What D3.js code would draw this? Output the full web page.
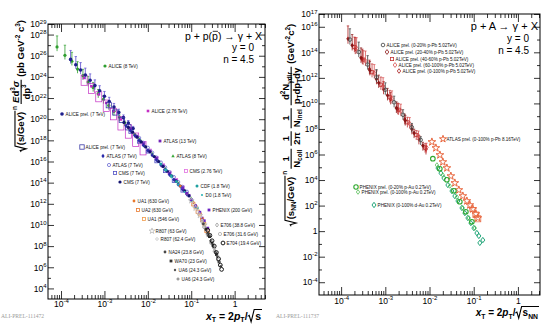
<!DOCTYPE html>
<html><head><meta charset="utf-8">
<script src="https://cdn.jsdelivr.net/npm/d3@7"></script>
<style>
body{margin:0;background:#fff}
svg{display:block;font-family:"Liberation Sans",Arial,Helvetica,sans-serif}
</style></head>
<body><svg id="c" width="550" height="327"></svg>
<script>
// ---------------- LEFT PANEL DATA (p+p) ----------------
const alice8_x = [8.1e-5,1.23e-4,1.78e-4,2.4e-4,3.2e-4,4.2e-4,5.5e-4,7.2e-4,9.5e-4,1.26e-3,1.66e-3,2.2e-3,2.9e-3,3.8e-3,5.0e-3,6.6e-3];
const alice8_y = [6.8e26,1.1e26,3.0e25,5.5e24,1.3e24,3.2e23,1.0e23,2.6e22,7.5e21,2.0e21,5.5e20,1.6e20,4.5e19,1.2e19,3.3e18,9.0e17];
const alice8_err = [10,8,6,4,3,2.5,2,1.5,1.2,1,0.8,0.6,0.5,0.4,0.35,0.3];
const alicePrel7_x = [1.66e-4,2.19e-4,2.82e-4,3.63e-4,4.68e-4,6.03e-4,7.76e-4,1.0e-3,1.29e-3,1.66e-3,2.14e-3,2.75e-3,3.55e-3,4.57e-3];
const alicePrel7_y = [4.5e25,1.4e25,4.5e24,1.5e24,4.8e23,1.5e23,4.9e22,1.5e22,4.7e21,1.4e21,4.4e20,1.4e20,4.4e19,1.3e19];
const alicePrel7_err = [6,5,4,3.5,3,2.5,2,1.8,1.5,1.2,1,0.8,0.7,0.6];
const alice276_x = [3.4e-4,5.0e-4,7.4e-4,1.1e-3,1.62e-3,2.4e-3,3.55e-3,5.25e-3,7.76e-3];
const alice276_y = [8e23,1.3e23,2.2e22,3.5e21,5.8e20,9.5e19,1.6e19,2.6e18,4.2e17];
const alice276_sys = [0.8,0.8,0.8,0.85,0.85,0.9,0.9,0.9,0.9];
const alicePrel7open_x = [1.26e-3,1.78e-3,2.51e-3,3.55e-3];
const alicePrel7open_y = [2.1e21,4.3e20,8.5e19,1.7e19];
const atlas13_x = [3.98e-3,5.62e-3,7.94e-3,1.12e-2,1.58e-2,2.24e-2,3.16e-2,4.47e-2,6.31e-2,8.91e-2,0.126,0.178,0.224];
const atlas13_y = [1.26e19,2.5e18,5.0e17,1.0e17,2.0e16,4.0e15,7.9e14,1.6e14,3.2e13,6.3e12,6.3e11,4.5e10,4.0e9];
const atlas7a_x = [3.16e-3,3.98e-3,5.01e-3,6.31e-3,7.94e-3,1.0e-2,1.26e-2,1.58e-2,2.0e-2,2.51e-2,3.16e-2,3.98e-2,5.01e-2,6.31e-2,7.94e-2,1.0e-1];
const atlas7a_y = [2.3e19,8.1e18,2.8e18,9.5e17,3.3e17,1.1e17,3.9e16,1.35e16,4.6e15,1.6e15,5.5e14,1.9e14,6.5e13,2.2e13,7.8e12,2.2e12];
const atlas7b_x = [6.31e-3,7.94e-3,1.0e-2,1.26e-2,1.58e-2,2.0e-2,2.51e-2,3.16e-2,3.98e-2,5.01e-2,6.31e-2,7.94e-2];
const atlas7b_y = [1.7e18,5.9e17,2.0e17,6.9e16,2.4e16,8.1e15,2.8e15,9.8e14,3.4e14,1.15e14,4.0e13,1.4e13];
const cms7open_x = [3.98e-3,6.31e-3,1.0e-2,1.58e-2,2.51e-2,3.98e-2,6.31e-2];
const cms7open_y = [6.5e18,7.6e17,8.9e16,1.07e16,1.26e15,1.5e14,1.8e13];
const cms7_x = [2.82e-3,3.55e-3,4.47e-3,5.62e-3,7.08e-3,8.91e-3,1.12e-2,1.41e-2,1.78e-2,2.24e-2,2.82e-2,3.55e-2,4.47e-2,5.62e-2,7.08e-2,8.91e-2];
const cms7_y = [5.0e19,1.7e19,5.9e18,2.0e18,7.1e17,2.4e17,8.3e16,2.9e16,1.0e16,3.4e15,1.2e15,4.1e14,1.4e14,4.8e13,1.7e13,5.6e12];
const atlas8_x = [6.31e-3,8.91e-3,1.26e-2,1.78e-2,2.51e-2,3.55e-2,5.01e-2,7.08e-2,1.0e-1,1.26e-1];
const atlas8_y = [1.35e18,2.7e17,5.5e16,1.1e16,2.2e15,4.6e14,9.2e13,1.9e13,3.2e12,6.3e11];
const cms276_x = [7.94e-3,1.12e-2,1.58e-2,2.24e-2,3.16e-2,4.47e-2,6.31e-2];
const cms276_y = [5.2e17,1.05e17,2.1e16,4.3e15,8.7e14,1.74e14,3.5e13];
const cdf_x = [2.0e-2,2.63e-2,3.47e-2,4.57e-2,6.03e-2,7.94e-2,1.05e-1,1.38e-1];
const cdf_y = [5.8e15,1.6e15,4.5e14,1.26e14,3.5e13,9.8e12,2.0e12,4.0e11];
const d0_x = [2.51e-2,3.55e-2,5.01e-2,7.08e-2,1.0e-1,1.26e-1];
const d0_y = [1.6e15,3.2e14,6.5e13,1.3e13,2.2e12,4.5e11];
const ua1630_x = [5.62e-2,7.94e-2,0.112,0.158,0.2,0.251];
const ua1630_y = [4.8e13,9.8e12,1.26e12,1.26e11,1.6e10,2.0e9];
const ua2_x = [0.112,0.141,0.178,0.224];
const ua2_y = [8.9e11,1.8e11,3.2e10,2.8e9];
const ua1546_x = [0.126,0.158,0.2];
const ua1546_y = [5.0e11,1.0e11,1.26e10];
const phenix200_x = [6.3e-2,7.9e-2,0.1,0.126,0.158,0.2,0.24];
const phenix200_y = [3.2e13,1.0e13,2.5e12,6.3e11,1.6e11,2.5e10,5.0e9];
const r807a_x = [0.1,0.126,0.158,0.2,0.251];
const r807a_y = [2.0e12,4.0e11,7.9e10,1.0e10,1.26e9];
const r807b_x = [0.112,0.141,0.178,0.224];
const r807b_y = [1.0e12,1.6e11,2.5e10,3.2e9];
const e706a_x = [0.178,0.209,0.245,0.288,0.339,0.398];
const e706a_y = [2.0e10,5.0e9,1.26e9,2.5e8,6.3e7,1.26e7];
const e706b_x = [0.2,0.24,0.288,0.347,0.417];
const e706b_y = [6.3e9,1.26e9,2.0e8,3.2e7,5.0e6];
const e704_x = [0.24,0.269,0.302,0.339,0.38,0.427,0.468,0.501];
const e704_y = [3.2e9,1.0e9,3.2e8,1.0e8,2.5e7,6.3e6,1.6e6,6.3e5];
const na24_x = [0.191,0.24,0.302,0.38];
const na24_y = [1.26e10,1.6e9,2.0e8,2.0e7];
const wa70_x = [0.219,0.263,0.316,0.38,0.437];
const wa70_y = [4.0e9,7.9e8,1.26e8,1.6e7,3.2e6];
const ua6a_x = [0.251,0.316,0.398,0.479];
const ua6a_y = [1.0e9,1.0e8,1.0e7,1.26e6];
const ua6b_x = [0.282,0.355,0.447];
const ua6b_y = [3.2e8,3.2e7,3.2e6];

// ---------------- RIGHT PANEL DATA (p+A) ----------------
const aliceA_x = [1.58e-4,2.51e-4,3.98e-4,6.31e-4,1.0e-3,1.58e-3,2.51e-3,3.98e-3,6.31e-3];
const aliceA_y = [1.0e15,1.05e14,1.1e13,1.12e12,1.17e11,1.23e10,1.29e9,1.35e8,1.38e7];
const aliceA_err = [6,5,4,3,2.5,2,1.5,1,0.8];
const aliceB_x = [1.78e-4,2.82e-4,4.47e-4,7.08e-4,1.12e-3,1.78e-3,2.82e-3,4.47e-3,7.08e-3];
const aliceB_y = [3.5e14,3.7e13,3.9e12,4.1e11,4.3e10,4.4e9,4.6e8,4.8e7,5.0e6];
const aliceB_err = [6,5,4,3,2.5,2,1.5,1,0.8];
const aliceC_x = [2.0e-4,3.16e-4,5.01e-4,7.94e-4,1.26e-3,2.0e-3,3.16e-3,5.01e-3,7.94e-3];
const aliceC_y = [2.6e14,2.7e13,2.75e12,2.9e11,3.0e10,3.2e9,3.3e8,3.4e7,3.5e6];
const aliceC_err = [5,4,3.5,3,2.5,2,1.5,1.2,1];
const aliceD_x = [2.24e-4,3.55e-4,5.62e-4,8.91e-4,1.41e-3,2.24e-3,3.55e-3,5.62e-3,8.51e-3];
const aliceD_y = [2.0e14,2.1e13,2.2e12,2.3e11,2.4e10,2.5e9,2.6e8,2.75e7,3.5e6];
const aliceD_err = [6,5,4,3.5,3,2.5,2,1.5,1.2];
const aliceE_x = [1.43e-4,2.09e-4,3.02e-4,4.37e-4,6.31e-4,9.12e-4,1.32e-3,1.91e-3,2.75e-3,3.98e-3,5.75e-3,8.32e-3];
const aliceE_y = [1.17e15,1.8e14,2.95e13,4.9e12,7.9e11,1.3e11,2.1e10,3.5e9,5.8e8,9.5e7,1.55e7,2.5e6];
const aliceE_err = [9,7,5,4,3.5,3,2.5,2,1.5,1.2,1,0.8];
const atlasPA_x = [0.01132,0.01393,0.01718,0.02004,0.02472,0.03041,0.03741,0.04613,0.05675,0.06998,0.08166,0.0955,0.1117,0.1239];
const atlasPA_y = [9.55e6,3.24e6,9.12e5,2.57e5,8.71e4,2.04e4,5.89e3,1.66e3,562,229,110,53.7,21.9,10.7];
const atlasPA_sys = [0,0,0,0,0,0,0,0,0,0,0,0.35,0.45,0.5];
const phenixPAu20_x = [1.19e-2,1.71e-2,2.47e-2,3.56e-2,4.85e-2,6.64e-2,9.08e-2];
const phenixPAu20_y = [4.7e5,7.6e4,1.05e4,1.45e3,200,33,5.4];
const phenixPAu100_x = [1.47e-2,2.0e-2,2.88e-2,4.16e-2,5.68e-2,7.76e-2,0.106];
const phenixPAu100_y = [1.5e5,2.45e4,3.4e3,470,65,10.7,1.74];
const phenixDAu_x = [1.55e-2,1.81e-2,2.11e-2,2.6e-2,3.21e-2,3.74e-2,4.38e-2,5.4e-2,6.3e-2,7.36e-2,8.61e-2,0.1007,0.1178,0.1306,0.1374,0.1607];
const phenixDAu_y = [8.7e4,3.5e4,1.45e4,4.1e3,1.38e3,560,230,65,26,10.7,4.3,1.74,0.71,0.42,0.12,0.2];

// tick / label lists
const xMajorTicks = [1e-4,1e-3,1e-2,1e-1,1];
const yLeftMajor = [1e4,1e6,1e8,1e10,1e12,1e14,1e16,1e18,1e20,1e22,1e24,1e26,1e28,1e29];
const yLeftMinor = [1e5,1e7,1e9,1e11,1e13,1e15,1e17,1e19,1e21,1e23,1e25,1e27];
const yRightMajor = [1e-4,1e-2,1,1e2,1e4,1e6,1e8,1e10,1e12,1e14,1e16,1e17];
const yRightMinor = [1e-3,1e-1,10,1e3,1e5,1e7,1e9,1e11,1e13,1e15];

// ---------------- series styles ----------------
const leftSeries = [
  {label:"ALICE (8 TeV)", x:alice8_x, y:alice8_y, err:alice8_err, shape:"circle", color:"#2f9e2f", fill:true, r:1.6, lx:105, ly:66},
  {label:"ALICE (2.76 TeV)", x:alice276_x, y:alice276_y, sys:alice276_sys, shape:"square", color:"#c42ec4", fill:true, r:1.3, lx:148, ly:111},
  {label:"ALICE prel. (7 TeV)", x:alicePrel7_x, y:alicePrel7_y, err:alicePrel7_err, shape:"circle", color:"#1e1e8c", ecolor:"#5a4ad0", fill:true, r:1.8, lx:62, ly:114},
  {label:"ALICE prel. (7 TeV)", x:alicePrel7open_x, y:alicePrel7open_y, shape:"square", color:"#3a3aa6", fill:false, r:2.6, lx:82, ly:147},
  {label:"ATLAS (8 TeV)", x:atlas8_x, y:atlas8_y, shape:"triangle", color:"#3aa83a", fill:true, r:1.5, lx:173, ly:156},
  {label:"CMS (2.76 TeV)", x:cms276_x, y:cms276_y, shape:"square", color:"#e070e0", fill:false, r:1.6, lx:186, ly:171},
  {label:"ATLAS (7 TeV)", x:atlas7b_x, y:atlas7b_y, shape:"circle", color:"#6a6ad2", fill:false, r:1.6, lx:109, ly:165},
  {label:"CMS (7 TeV)", x:cms7open_x, y:cms7open_y, shape:"square", color:"#5050c4", fill:false, r:1.6, lx:115, ly:173},
  {label:"ATLAS (13 TeV)", x:atlas13_x, y:atlas13_y, shape:"square", color:"#7424b8", fill:true, r:1.4, lx:160, ly:141},
  {label:"ATLAS (7 TeV)", x:atlas7a_x, y:atlas7a_y, shape:"diamond", color:"#2a2aaa", fill:true, r:1.6, lx:103, ly:156},
  {label:"CMS (7 TeV)", x:cms7_x, y:cms7_y, shape:"circle", color:"#141470", fill:true, r:1.6, lx:120, ly:182},
  {label:"CDF (1.8 TeV)", x:cdf_x, y:cdf_y, shape:"circle", color:"#1fa0a0", fill:true, r:1.5, lx:197, ly:186},
  {label:"D0 (1.8 TeV)", x:d0_x, y:d0_y, shape:"circle", color:"#30b6b6", fill:true, r:1.1, lx:202, ly:195},
  {label:"UA1 (630 GeV)", x:ua1630_x, y:ua1630_y, shape:"circle", color:"#e8782c", fill:true, r:1.4, lx:134, ly:201},
  {label:"UA2 (630 GeV)", x:ua2_x, y:ua2_y, shape:"square", color:"#e8782c", fill:false, r:1.6, lx:138, ly:210},
  {label:"UA1 (546 GeV)", x:ua1546_x, y:ua1546_y, shape:"square", color:"#f09a48", fill:false, r:1.5, lx:144, ly:219},
  {label:"PHENIX (200 GeV)", x:phenix200_x, y:phenix200_y, shape:"square", color:"#6a22c4", fill:true, r:1.4, lx:209, ly:210},
  {label:"R807 (63 GeV)", x:r807a_x, y:r807a_y, shape:"star", color:"#bdbdbd", fill:false, r:1.8, lx:152, ly:231},
  {label:"R807 (62.4 GeV)", x:r807b_x, y:r807b_y, shape:"circle", color:"#c8c8c8", fill:false, r:1.3, lx:157, ly:239},
  {label:"E706 (38.8 GeV)", x:e706a_x, y:e706a_y, shape:"diamond", color:"#999999", fill:false, r:1.5, lx:217, ly:225},
  {label:"E706 (31.6 GeV)", x:e706b_x, y:e706b_y, shape:"circle", color:"#a8a8a8", fill:false, r:1.6, lx:220, ly:234},
  {label:"NA24 (23.8 GeV)", x:na24_x, y:na24_y, shape:"circle", color:"#484848", fill:true, r:1.4, lx:165, ly:252},
  {label:"WA70 (23 GeV)", x:wa70_x, y:wa70_y, shape:"square", color:"#333333", fill:true, r:1.4, lx:171, ly:261},
  {label:"UA6 (24.3 GeV)", x:ua6a_x, y:ua6a_y, shape:"circle", color:"#555555", fill:true, r:1.2, lx:175, ly:270},
  {label:"UA6 (24.3 GeV)", x:ua6b_x, y:ua6b_y, shape:"cross", color:"#666666", fill:false, r:1.6, lx:178, ly:279},
  {label:"E704 (19.4 GeV)", x:e704_x, y:e704_y, shape:"circle", color:"#1a1a1a", fill:false, r:1.9, sw:1, lx:223, ly:243}
];
const rightSeries = [
  {label:"ALICE prel. (0-100% p-Pb 5.02TeV)", x:aliceE_x, y:aliceE_y, err:aliceE_err, shape:"diamond", color:"#a81c1c", fill:true, r:1.7, lx:399, ly:71, lfill:false},
  {label:"ALICE prel. (60-100% p-Pb 5.02TeV)", x:aliceD_x, y:aliceD_y, err:aliceD_err, shape:"diamond", color:"#d85050", fill:false, r:1.8, lx:395, ly:65},
  {label:"ALICE prel. (40-60% p-Pb 5.02TeV)", x:aliceC_x, y:aliceC_y, err:aliceC_err, shape:"square", color:"#c43434", fill:false, r:1.6, lx:392, ly:59},
  {label:"ALICE prel. (20-40% p-Pb 5.02TeV)", x:aliceB_x, y:aliceB_y, err:aliceB_err, shape:"diamond", color:"#8a1616", fill:true, r:1.8, lx:387, ly:52, lfill:false},
  {label:"ALICE prel. (0-20% p-Pb 5.02TeV)", x:aliceA_x, y:aliceA_y, err:aliceA_err, shape:"circle", color:"#404040", fill:false, r:1.8, lx:383, ly:45},
  {label:"ATLAS prel. (0-100% p-Pb 8.16TeV)", x:atlasPA_x, y:atlasPA_y, sys:atlasPA_sys, shape:"star", color:"#e8663e", fill:false, r:2.4, sw:1, lx:443, ly:139},
  {label:"PHENIX (0-100% d-Au 0.2TeV)", x:phenixDAu_x, y:phenixDAu_y, shape:"diamond", color:"#22a67a", fill:false, r:2.0, sw:1, lx:374, ly:205},
  {label:"PHENIX prel. (0-100% p-Au 0.2TeV)", x:phenixPAu100_x, y:phenixPAu100_y, shape:"diamond", color:"#58be58", fill:false, r:1.7, lx:358, ly:192},
  {label:"PHENIX prel. (0-20% p-Au 0.2TeV)", x:phenixPAu20_x, y:phenixPAu20_y, shape:"circle", color:"#2ea82e", fill:false, r:2.3, sw:1.1, lx:356, ly:187}
];

const svg = d3.select("#c");

// ---------- helpers ----------
function marker(g, shape, cx, cy, r, color, fill, sw) {
  let s;
  if (shape === "circle") s = g.append("circle").attr("cx", cx).attr("cy", cy).attr("r", r);
  else if (shape === "square") s = g.append("rect").attr("x", cx - r).attr("y", cy - r).attr("width", 2 * r).attr("height", 2 * r);
  else if (shape === "diamond") s = g.append("path").attr("d", `M${cx},${cy - r * 1.35}L${cx + r},${cy}L${cx},${cy + r * 1.35}L${cx - r},${cy}Z`);
  else if (shape === "triangle") s = g.append("path").attr("d", `M${cx},${cy - r * 1.25}L${cx + r * 1.15},${cy + r * 0.8}L${cx - r * 1.15},${cy + r * 0.8}Z`);
  else if (shape === "star") s = g.append("path").attr("transform", `translate(${cx},${cy})`).attr("d", d3.symbol(d3.symbolStar, r * r * 3.2)());
  else if (shape === "cross") {
    s = g.append("path").attr("d", `M${cx - r},${cy}H${cx + r}M${cx},${cy - r}V${cy + r}`);
    fill = false;
  }
  if (fill) s.attr("fill", color).attr("stroke", "none");
  else s.attr("fill", "none").attr("stroke", color).attr("stroke-width", sw || 0.8);
}

function drawSeries(g, xs, ys, s) {
  const lo = ys.domain()[0];
  s.x.forEach((xv, i) => {
    const yv = s.y[i], px = xs(xv);
    if (s.sys && s.sys[i]) {
      const t = ys(yv * (1 + s.sys[i])), b = ys(Math.max(yv * (1 - s.sys[i]), lo));
      g.append("rect").attr("x", px - 3).attr("width", 6).attr("y", t).attr("height", b - t)
        .attr("fill", "none").attr("stroke", s.color).attr("stroke-width", 0.7);
    }
    if (s.err) {
      const e = s.err[i];
      g.append("line").attr("x1", px).attr("x2", px)
        .attr("y1", ys(yv * (1 + e))).attr("y2", ys(yv * (1 - Math.min(e, 0.6))))
        .attr("stroke", s.ecolor || s.color).attr("stroke-width", 0.8);
      g.append("line").attr("x1", px - 1.2).attr("x2", px + 1.2)
        .attr("y1", ys(yv * (1 + e))).attr("y2", ys(yv * (1 + e)))
        .attr("stroke", s.ecolor || s.color).attr("stroke-width", 0.7);
    }
  });
  s.x.forEach((xv, i) => marker(g, s.shape, xs(xv), ys(s.y[i]), s.r, s.color, s.fill, s.sw));
}

function drawLegend(g, list, fs) {
  list.forEach(s => {
    marker(g, s.shape, s.lx, s.ly, Math.min(s.r, 2.2), s.color, s.lfill === undefined ? s.fill : s.lfill, s.sw);
    g.append("text").attr("x", s.lx + 3.6).attr("y", s.ly + 1.6).attr("font-size", fs).attr("fill", "#111").text(s.label);
  });
}

// rich text layout (horizontal, baseline at y=0)
function rich(parent, items, size, weight) {
  const g = parent.append("g");
  let x = 0;
  for (let it of items) {
    if (typeof it === "string") it = {t: it};
    if (it.gap !== undefined) { x += it.gap; continue; }
    if (it.frac) {
      const gn = g.append("g"), gd = g.append("g");
      const wn = rich(gn, it.frac[0], size, weight);
      const wd = rich(gd, it.frac[1], size, weight);
      const w = Math.max(wn, wd) + 2;
      gn.attr("transform", `translate(${x + (w - wn) / 2},${-size * 0.5})`);
      gd.attr("transform", `translate(${x + (w - wd) / 2},${size * 0.62})`);
      g.append("line").attr("x1", x).attr("x2", x + w).attr("y1", -size * 0.3).attr("y2", -size * 0.3)
        .attr("stroke", "#000").attr("stroke-width", weight === "bold" ? 1.1 : 0.8);
      x += w + 1;
      continue;
    }
    if (it.sqrt) {
      const gi = g.append("g");
      const wi = rich(gi, it.sqrt, size, weight);
      const rw = size * 0.62;
      gi.attr("transform", `translate(${x + rw + 1},0)`);
      const top = -size * 0.95, bot = size * 0.22;
      g.append("path").attr("d", `M${x},${-size * 0.3}L${x + size * 0.15},${-size * 0.4}L${x + size * 0.33},${bot}L${x + rw},${top}L${x + rw + wi + 2},${top}`)
        .attr("fill", "none").attr("stroke", "#000").attr("stroke-width", weight === "bold" ? 1.1 : 0.8);
      x += rw + wi + 3;
      continue;
    }
    const sc = (it.sup || it.sub) ? 0.68 : 1;
    const dy = it.dy !== undefined ? it.dy * size : it.sup ? -0.42 * size : it.sub ? 0.26 * size : 0;
    const t = g.append("text").attr("x", x).attr("y", dy).attr("font-size", size * sc)
      .attr("font-weight", weight).style("white-space", "pre").text(it.t);
    if (it.it) t.attr("font-style", "italic");
    const w = t.node().getComputedTextLength();
    if (it.over) g.append("line").attr("x1", x + 0.6).attr("x2", x + w).attr("y1", dy - size * sc * 0.78).attr("y2", dy - size * sc * 0.78)
      .attr("stroke", "#000").attr("stroke-width", 0.8);
    x += w;
  }
  return x;
}
function place(parent, items, size, weight, x, y, anchor, rot) {
  const wrap = parent.append("g").attr("transform", `translate(${x},${y})${rot ? ` rotate(${rot})` : ""}`);
  const inner = wrap.append("g");
  const w = rich(inner, items, size, weight);
  const off = anchor === "end" ? -w : anchor === "middle" ? -w / 2 : 0;
  inner.attr("transform", `translate(${off},0)`);
  return w;
}

function expLabel(sel, fs, sfs, supDy) {
  sel.selectAll(".tick text").each(function (d) {
    const e = Math.round(Math.log10(d));
    const t = d3.select(this).text("").attr("font-size", fs).attr("fill", "#000");
    if (e === 0) t.text("1");
    else {
      t.append("tspan").text("10");
      t.append("tspan").attr("dy", supDy).attr("font-size", sfs).text(e);
    }
  });
}

function drawFrame(g, xs, ys, yMajor, yMinor, xPad) {
  const [x0, x1] = xs.range(), [y1, y0] = ys.range();
  const [dlo, dhi] = xs.domain();
  const xMinor = [];
  for (let e = Math.floor(Math.log10(dlo)); e <= Math.ceil(Math.log10(dhi)); e++)
    for (let m = 2; m <= 9; m++) { const v = m * Math.pow(10, e); if (v > dlo && v < dhi) xMinor.push(v); }
  const style = a => a.call(s => s.select(".domain").remove()).call(s => s.selectAll(".tick line").attr("stroke", "#000").attr("stroke-width", 0.8));
  const fmt = () => "";
  const bx = g.append("g").attr("transform", `translate(0,${y1})`)
    .call(d3.axisBottom(xs).tickValues(xMajorTicks).tickSize(-8).tickPadding(xPad).tickFormat(fmt)).call(style);
  expLabel(bx, 8.5, 6, -3.6);
  g.append("g").attr("transform", `translate(0,${y1})`).call(d3.axisBottom(xs).tickValues(xMinor).tickSize(-4).tickFormat(fmt)).call(style);
  g.append("g").attr("transform", `translate(0,${y0})`).call(d3.axisTop(xs).tickValues(xMajorTicks).tickSize(-8).tickFormat(fmt)).call(style);
  g.append("g").attr("transform", `translate(0,${y0})`).call(d3.axisTop(xs).tickValues(xMinor).tickSize(-4).tickFormat(fmt)).call(style);
  const ly = g.append("g").attr("transform", `translate(${x0},0)`)
    .call(d3.axisLeft(ys).tickValues(yMajor).tickSize(-6).tickPadding(1.5).tickFormat(fmt)).call(style);
  expLabel(ly, 8.5, 6, -3.6);
  g.append("g").attr("transform", `translate(${x0},0)`).call(d3.axisLeft(ys).tickValues(yMinor).tickSize(-3).tickFormat(fmt)).call(style);
  g.append("g").attr("transform", `translate(${x1},0)`).call(d3.axisRight(ys).tickValues(yMajor).tickSize(-6).tickFormat(fmt)).call(style);
  g.append("g").attr("transform", `translate(${x1},0)`).call(d3.axisRight(ys).tickValues(yMinor).tickSize(-3).tickFormat(fmt)).call(style);
  g.append("rect").attr("x", x0).attr("y", y0).attr("width", x1 - x0).attr("height", y1 - y0)
    .attr("fill", "none").attr("stroke", "#000").attr("stroke-width", 1);
}

// ---------- LEFT PANEL ----------
const xL = d3.scaleLog().domain([5.01e-5, 5.01]).range([48, 265]);
const yL = d3.scaleLog().domain([1e3, 1e29]).range([299, 24]);
const gL = svg.append("g");
leftSeries.forEach(s => drawSeries(gL.append("g"), xL, yL, s));
drawFrame(gL, xL, yL, yLeftMajor, yLeftMinor, 2);
drawLegend(gL, leftSeries, 4.6);

// ---------- RIGHT PANEL ----------
const xR = d3.scaleLog().domain([3.16e-5, 3.16]).range([319, 540]);
const yR = d3.scaleLog().domain([1e-5, 1e17]).range([295, 14]);
const gR = svg.append("g");
rightSeries.forEach(s => drawSeries(gR.append("g"), xR, yR, s));
drawFrame(gR, xR, yR, yRightMajor, yRightMinor, 3);
drawLegend(gR, rightSeries, 4.6);

// ---------- TEXTS ----------
const sup = t => ({t, sup: true}), sub = t => ({t, sub: true});
// left header
place(svg, ["p + p(", {t: "p", over: true}, ") \u2192 \u03b3 + X"], 10.5, "normal", 262, 39.5, "end");
place(svg, ["y = 0"], 10, "normal", 254, 51, "end");
place(svg, ["n = 4.5"], 10, "normal", 254, 63, "end");
// right header
place(svg, ["p + A \u2192 \u03b3 + X"], 11, "normal", 538, 30, "end");
place(svg, ["y = 0"], 10, "normal", 529, 42, "end");
place(svg, ["n = 4.5"], 10, "normal", 529, 53.5, "end");

// x titles
place(svg, [{t: "x", it: true}, sub("T"), " = 2", {t: "p", it: true}, sub("T"), "/", {sqrt: ["s"]}], 10.5, "bold", 263, 319.5, "end");
place(svg, [{t: "x", it: true}, sub("T"), " = 2", {t: "p", it: true}, sub("T"), "/", {sqrt: ["s", sub("NN")]}], 10, "bold", 540, 316, "end");

// y titles
place(svg, [{sqrt: ["(s/GeV)"]}, {t: "n", sup: true, dy: -0.7}, {gap: 2},
  {frac: [[{t: "E", it: true}, "d", sup("3"), {t: "\u03c3", it: true}], ["dp", sup("3")]]}, {gap: 2},
  "(pb GeV", sup("-2"), " c", sup("3"), ")"], 9.5, "bold", 24, 86, "middle", -90);
place(svg, [{sqrt: ["(s", sub("NN"), "/GeV)"]}, {t: "n", sup: true, dy: -0.7}, {gap: 2},
  {frac: [["1"], ["N", sub("coll")]]}, {gap: 2},
  {frac: [["1"], ["2\u03c0"]]}, {gap: 2},
  {frac: [["1"], ["N", sub("inel")]]}, {gap: 2},
  {frac: [["d", sup("2"), "N", sub("\u03b3dir")], ["p", sub("T"), "dp", sub("T"), "dy"]]}, {gap: 2},
  "(GeV", sup("-2"), "c", sup("2"), ")"], 9.5, "bold", 294, 125, "middle", -90);

// watermarks
svg.append("text").attr("x", 1).attr("y", 318).attr("font-size", 5.6).attr("fill", "#9a9a9a")
  .attr("font-family", "Liberation Serif, serif").text("ALI-PREL-111472");
svg.append("text").attr("x", 276).attr("y", 318).attr("font-size", 5.6).attr("fill", "#9a9a9a")
  .attr("font-family", "Liberation Serif, serif").text("ALI-PREL-111737");
</script></body></html>
